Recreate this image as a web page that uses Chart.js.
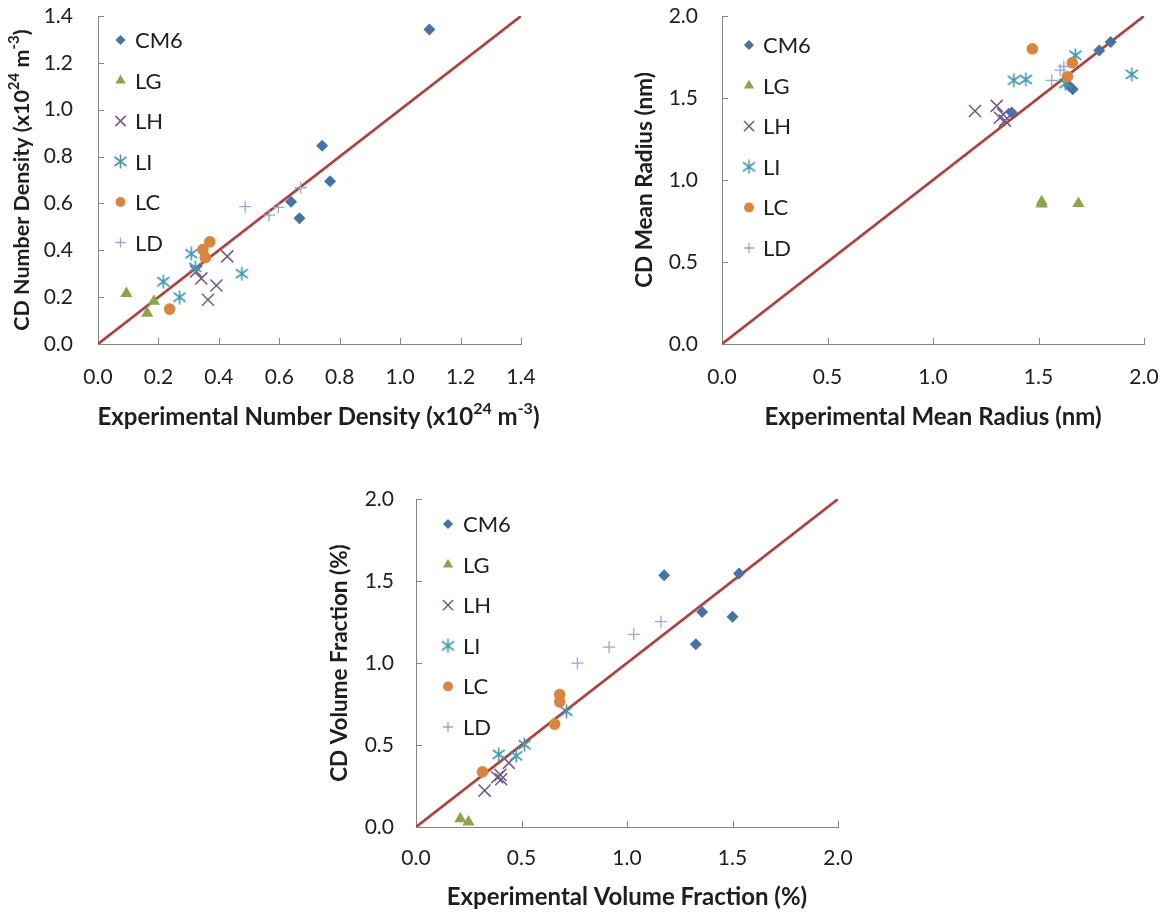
<!DOCTYPE html>
<html lang="en">
<head>
<meta charset="UTF-8">
<title>CD vs experiment</title>
<script src="https://cdn.jsdelivr.net/npm/chart.js"></script>
<style>
    * {
        margin: 0;
        padding: 0;
        box-sizing: border-box;
    }
    body {
        width: 1169px;
        height: 913px;
        background: #ffffff;
        position: relative;
        overflow: hidden;
    }
    canvas {
        position: absolute;
    }
    #densityChart { left: 0; top: 0; }
    #radiusChart { left: 600px; top: 0; }
    #volumeChart { left: 300px; top: 480px; }
</style>
</head>
<body>
<canvas id="densityChart" width="570" height="440"></canvas>
<canvas id="radiusChart" width="569" height="440"></canvas>
<canvas id="volumeChart" width="569" height="433"></canvas>

<script>
    const seriesNames = ['CM6', 'LG', 'LH', 'LI', 'LC', 'LD'];

    // number density, x10^24 m^-3 : [experimental, CD]
    const densityCM6 = [[1.097, 1.342], [0.742, 0.846], [0.768, 0.695], [0.639, 0.607], [0.667, 0.537]];
    const densityLG = [[0.094, 0.216], [0.185, 0.183], [0.163, 0.131]];
    const densityLH = [[0.428, 0.374], [0.342, 0.280], [0.392, 0.250], [0.364, 0.189], [0.325, 0.310]];
    const densityLI = [[0.309, 0.385], [0.322, 0.327], [0.216, 0.266], [0.270, 0.200], [0.476, 0.300]];
    const densityLC = [[0.370, 0.436], [0.347, 0.403], [0.355, 0.369], [0.237, 0.149]];
    const densityLD = [[0.487, 0.586], [0.566, 0.550], [0.597, 0.583], [0.671, 0.667]];

    // mean radius, nm
    const radiusCM6 = [[1.842, 1.841], [1.788, 1.790], [1.373, 1.412], [1.646, 1.573], [1.662, 1.553]];
    const radiusLG = [[1.515, 0.868], [1.515, 0.853], [1.689, 0.857]];
    const radiusLH = [[1.199, 1.421], [1.302, 1.452], [1.317, 1.380], [1.341, 1.362], [1.333, 1.400]];
    const radiusLI = [[1.383, 1.608], [1.440, 1.613], [1.675, 1.760], [1.942, 1.644], [1.627, 1.588]];
    const radiusLC = [[1.471, 1.800], [1.660, 1.715], [1.637, 1.630]];
    const radiusLD = [[1.563, 1.608], [1.603, 1.670], [1.620, 1.692]];

    // volume fraction, %
    const volumeCM6 = [[1.176, 1.535], [1.531, 1.545], [1.356, 1.311], [1.500, 1.282], [1.326, 1.115]];
    const volumeLG = [[0.210, 0.051], [0.249, 0.030]];
    const volumeLH = [[0.325, 0.222], [0.385, 0.303], [0.400, 0.318], [0.404, 0.291], [0.440, 0.391]];
    const volumeLI = [[0.392, 0.443], [0.475, 0.434], [0.514, 0.502], [0.713, 0.706]];
    const volumeLC = [[0.315, 0.336], [0.681, 0.808], [0.681, 0.763], [0.657, 0.627]];
    const volumeLD = [[0.765, 0.999], [0.915, 1.097], [1.032, 1.175], [1.161, 1.252]];

    const densityTicks = [0, 0.2, 0.4, 0.6, 0.8, 1.0, 1.2, 1.4];
    const radiusTicks = [0, 0.5, 1.0, 1.5, 2.0];
    const volumeTicks = [0, 0.5, 1.0, 1.5, 2.0];

    const densityXTitle = [{ text: 'Experimental Number Density (x10' }, { text: '24', sup: true }, { text: ' m' }, { text: '-3', sup: true }, { text: ')' }];
    const densityYTitle = [{ text: 'CD Number Density (x10' }, { text: '24', sup: true }, { text: ' m' }, { text: '-3', sup: true }, { text: ')' }];
    const radiusXTitle = [{ text: 'Experimental Mean Radius (nm)' }];
    const radiusYTitle = [{ text: 'CD Mean Radius (nm)' }];
    const volumeXTitle = [{ text: 'Experimental Volume Fraction (%)' }];
    const volumeYTitle = [{ text: 'CD Volume Fraction (%)' }];

    const seriesColors = ['#4572a7', '#89a54e', '#71588f', '#4198af', '#db843d', '#93a9cf'];
    const parityColor = '#b0403c';
    const axisColor = '#868686';
    const textColor = '#1e1e1e';
    const fontFamily = 'Lato, "Open Sans", sans-serif';

    // excel style asterisk: an x with a vertical bar through it
    function asteriskMarker(color) {
        const c = document.createElement('canvas');
        c.width = 15;
        c.height = 15;
        const g = c.getContext('2d');
        g.strokeStyle = color;
        g.lineWidth = 1.6;
        g.beginPath();
        g.moveTo(1.5, 3); g.lineTo(13.5, 12);
        g.moveTo(1.5, 12); g.lineTo(13.5, 3);
        g.moveTo(7.5, 0.5); g.lineTo(7.5, 14.5);
        g.stroke();
        return c;
    }

    const markers = [
        { pointStyle: 'rectRot', radius: 6, borderWidth: 0 },
        { pointStyle: 'triangle', radius: 7, borderWidth: 0 },
        { pointStyle: 'crossRot', radius: 8.5, borderWidth: 1.5 },
        { pointStyle: asteriskMarker(seriesColors[3]), radius: 7, borderWidth: 0 },
        { pointStyle: 'circle', radius: 5.8, borderWidth: 0 },
        { pointStyle: 'cross', radius: 6, borderWidth: 1.3 }
    ];

    function buildDatasets(series, maxVal) {
        const sets = series.map((pts, i) => ({
            label: seriesNames[i],
            data: pts.map(p => ({ x: p[0], y: p[1] })),
            pointStyle: markers[i].pointStyle,
            pointRadius: markers[i].radius,
            pointHoverRadius: markers[i].radius,
            pointBorderWidth: markers[i].borderWidth,
            pointBackgroundColor: seriesColors[i],
            pointBorderColor: seriesColors[i],
            showLine: false,
            clip: false,
            order: series.length - i   // later series on top
        }));
        // y = x line
        sets.push({
            type: 'line',
            label: 'parity',
            data: [{ x: 0, y: 0 }, { x: maxVal, y: maxVal }],
            borderColor: parityColor,
            borderWidth: 2.6,
            pointRadius: 0,
            fill: false,
            order: 100
        });
        return sets;
    }

    function drawRichText(ctx, parts, cx, cy, size, vertical) {
        const big = `bold ${size}px ${fontFamily}`;
        const small = `bold ${Math.round(size * 0.68)}px ${fontFamily}`;
        ctx.save();
        ctx.translate(cx, cy);
        if (vertical) ctx.rotate(-Math.PI / 2);
        ctx.fillStyle = textColor;
        ctx.textAlign = 'left';
        ctx.textBaseline = 'middle';
        let total = 0;
        const widths = parts.map(p => {
            ctx.font = p.sup ? small : big;
            const w = ctx.measureText(p.text).width;
            total += w;
            return w;
        });
        let x = -total / 2;
        parts.forEach((p, i) => {
            ctx.font = p.sup ? small : big;
            ctx.fillText(p.text, x, p.sup ? -size * 0.36 : 0);
            x += widths[i];
        });
        ctx.restore();
    }

    const decorations = {
        id: 'decorations',
        beforeDatasetsDraw(chart) {
            // tick marks point into the plot area
            const { ctx, chartArea: a, scales } = chart;
            ctx.save();
            ctx.strokeStyle = axisColor;
            ctx.lineWidth = 1;
            ctx.beginPath();
            scales.x.ticks.forEach(t => {
                const px = Math.round(scales.x.getPixelForValue(t.value)) + 0.5;
                ctx.moveTo(px, a.bottom);
                ctx.lineTo(px, a.bottom - 6);
            });
            scales.y.ticks.forEach(t => {
                const py = Math.round(scales.y.getPixelForValue(t.value)) + 0.5;
                ctx.moveTo(a.left, py);
                ctx.lineTo(a.left + 6, py);
            });
            ctx.stroke();
            ctx.restore();
        },
        afterDraw(chart, args, opts) {
            const { ctx, chartArea: a } = chart;
            drawRichText(ctx, opts.xTitle, (a.left + a.right) / 2 + opts.xTitleShift, a.bottom + opts.xTitleOffset, 24, false);
            drawRichText(ctx, opts.yTitle, a.left + opts.yTitleOffset, (a.top + a.bottom) / 2, opts.yTitleSize, true);

            // legend
            ctx.save();
            ctx.font = `22px ${fontFamily}`;
            ctx.textBaseline = 'middle';
            ctx.textAlign = 'left';
            seriesNames.forEach((name, i) => {
                const y = a.top + opts.legendTop + i * opts.legendStep;
                const mx = a.left + opts.legendMarker;
                const m = markers[i];
                ctx.fillStyle = seriesColors[i];
                ctx.strokeStyle = seriesColors[i];
                ctx.lineWidth = m.borderWidth;
                Chart.helpers.drawPoint(ctx, {
                    pointStyle: m.pointStyle,
                    radius: m.radius * 0.85,
                    rotation: 0,
                    borderWidth: m.borderWidth
                }, mx, y);
                ctx.fillStyle = textColor;
                ctx.fillText(name, a.left + opts.legendText, y + 1);
            });
            ctx.restore();
        }
    };

    function makeChart(id, series, ticks, cfg) {
        const lo = ticks[0];
        const hi = ticks[ticks.length - 1];
        const axis = (fit, pad) => ({
            type: 'linear',
            min: lo,
            max: hi,
            afterBuildTicks: s => { s.ticks = ticks.map(v => ({ value: v })); },
            afterFit: s => {
                fit(s);
                s.paddingTop = 0;
                s.paddingBottom = 0;
                s.paddingLeft = 0;
                s.paddingRight = 0;
            },
            grid: { display: false, drawTicks: false },
            border: { display: true, color: axisColor, width: 1 },
            ticks: {
                color: textColor,
                padding: pad,
                font: { family: fontFamily, size: 21 },
                callback: v => Number(v).toFixed(1)
            }
        });
        return new Chart(document.getElementById(id), {
            type: 'scatter',
            data: { datasets: buildDatasets(series, hi) },
            plugins: [decorations],
            options: {
                responsive: false,
                animation: false,
                devicePixelRatio: 1,
                layout: { padding: { left: 0, top: cfg.top, right: cfg.right, bottom: 0 } },
                scales: {
                    x: axis(s => { s.height = cfg.xHeight; }, cfg.xPad),
                    y: axis(s => { s.width = cfg.yWidth; }, cfg.yPad)
                },
                plugins: {
                    legend: { display: false },
                    tooltip: { enabled: false },
                    decorations: cfg.deco
                }
            }
        });
    }

    makeChart('densityChart',
        [densityCM6, densityLG, densityLH, densityLI, densityLC, densityLD],
        densityTicks,
        {
            top: 16, right: 49, yWidth: 98, xHeight: 96, yPad: 25, xPad: 21,
            deco: {
                xTitle: densityXTitle, yTitle: densityYTitle,
                xTitleOffset: 73, xTitleShift: 9, yTitleOffset: -76, yTitleSize: 21.5,
                legendTop: 24, legendStep: 40.5, legendMarker: 22.5, legendText: 37
            }
        });

    makeChart('radiusChart',
        [radiusCM6, radiusLG, radiusLH, radiusLI, radiusLC, radiusLD],
        radiusTicks,
        {
            top: 16, right: 25, yWidth: 122, xHeight: 96, yPad: 24, xPad: 21,
            deco: {
                xTitle: radiusXTitle, yTitle: radiusYTitle,
                xTitleOffset: 73, xTitleShift: 0, yTitleOffset: -77, yTitleSize: 22.5,
                legendTop: 29, legendStep: 40.6, legendMarker: 27, legendText: 41
            }
        });

    makeChart('volumeChart',
        [volumeCM6, volumeLG, volumeLH, volumeLI, volumeLC, volumeLD],
        volumeTicks,
        {
            top: 19, right: 31, yWidth: 116, xHeight: 86, yPad: 22, xPad: 19,
            deco: {
                xTitle: volumeXTitle, yTitle: volumeYTitle,
                xTitleOffset: 70, xTitleShift: 0, yTitleOffset: -76, yTitleSize: 22.5,
                legendTop: 25, legendStep: 40.6, legendMarker: 32, legendText: 47
            }
        });
</script>
</body>
</html>
